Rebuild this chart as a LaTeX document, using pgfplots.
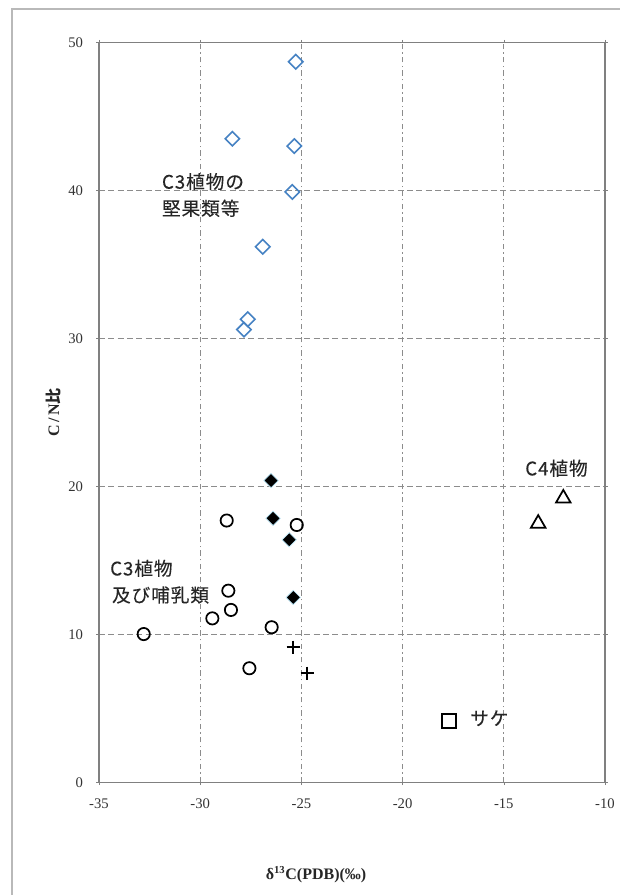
\documentclass[border=0pt]{standalone}
\usepackage{pgfplots}
\pgfplotsset{compat=1.18}
\usepackage{fontspec}
\setmainfont{Liberation Serif}
\newfontfamily\jp[LetterSpace=5, FakeBold=0.2]{Noto Sans CJK JP}
\newfontfamily\jpb{Noto Sans CJK JP}
\definecolor{dblue}{RGB}{70,130,195}
\definecolor{gridg}{RGB}{140,140,140}
\begin{document}
\begin{tikzpicture}[x=1pt,y=1pt]
\path[use as bounding box] (0,0) rectangle (465,671.25);
\draw[gray!55, line width=1pt] (9,0) -- (9,664.5) -- (465,664.5);
\begin{axis}[at={(74.25pt,84.375pt)}, anchor=south west, scale only axis,
  width=379.5pt, height=555pt,
  xmin=-35, xmax=-10, ymin=0, ymax=50,
  xtick={-35,-30,...,-10}, ytick={0,10,...,50},
  grid=major,
  x grid style={gridg, dash pattern=on 4pt off 2.5pt on 1pt off 2.5pt, line width=0.7pt},
  y grid style={gridg, dash pattern=on 4.5pt off 2.5pt, line width=0.7pt},
  axis line style={gray, line width=0.8pt},
  tick style={gray}, major tick length=2pt, tick align=outside,
  /pgf/number format/assume math mode=true,
  ticklabel style={font=\fontsize{11}{13}\selectfont, text=black!80},
  xticklabel style={yshift=-6.5pt},
  yticklabel style={xshift=-6.5pt},
  xlabel={\textbf{δ\textsuperscript{13}C(PDB)(‰)}},
  xlabel style={at={(axis description cs:0.4289,-0.125)}, anchor=center, font=\fontsize{12}{14}\selectfont, text=black!85},
  ylabel={\textbf{C\,/\,N}{\jpb\bfseries 比}},
  ylabel style={at={(axis description cs:-0.0909,0.5)}, anchor=center, font=\fontsize{12}{14}\selectfont, text=black!85},
  clip=false,
]
% C3 nuts (open blue diamonds)
\addplot[only marks, mark=square, mark size=3.8pt,
  mark options={rotate=45, draw=dblue, line width=1.2pt}] coordinates {
  (-25.28,48.7) (-28.41,43.5) (-25.35,43.0) (-25.45,39.9)
  (-26.91,36.2) (-27.65,31.3) (-27.84,30.6)};
% filled black diamonds
\addplot[only marks, mark=square*, mark size=3.8pt,
  mark options={rotate=45, fill=black, draw=cyan!25, line width=0.5pt}] coordinates {
  (-26.50,20.4) (-26.40,17.85) (-25.60,16.4) (-25.40,12.5)};
% open circles
\addplot[only marks, mark=o, mark size=4.6pt,
  mark options={draw=black, line width=1.3pt}] coordinates {
  (-28.69,17.7) (-25.23,17.4) (-28.61,12.96) (-28.48,11.66)
  (-29.40,11.09) (-26.47,10.49) (-32.79,10.03) (-27.57,7.72)};
% plus
\addplot[only marks, mark=+, mark size=5pt,
  mark options={draw=black, line width=1.4pt}] coordinates {
  (-25.40,9.13) (-24.71,7.38)};
% triangles C4
\addplot[only marks, mark=triangle, mark size=6.3pt,
  mark options={draw=black, line width=1.3pt}] coordinates {
  (-12.06,19.2) (-13.3,17.5)};
% square (salmon)
\addplot[only marks, mark=square, mark size=5.2pt,
  mark options={draw=black, line width=1.3pt}] coordinates {
  (-17.7,4.17)};
\begin{scope}[every node/.style={anchor=west, inner sep=0pt, text=black!85, font=\jp\fontsize{14}{16}\selectfont}]
\node at (axis cs:-31.9,40.6) {C3植物の};
\node at (axis cs:-31.9,38.8) {堅果類等};
\node at (axis cs:-34.46,14.47) {C3植物};
\node at (axis cs:-34.37,12.67) {及び哺乳類};
\node at (axis cs:-13.95,21.23) {C4植物};
\node at (axis cs:-16.67,4.34) {サケ};
\end{scope}
\end{axis}
\end{tikzpicture}
\end{document}
